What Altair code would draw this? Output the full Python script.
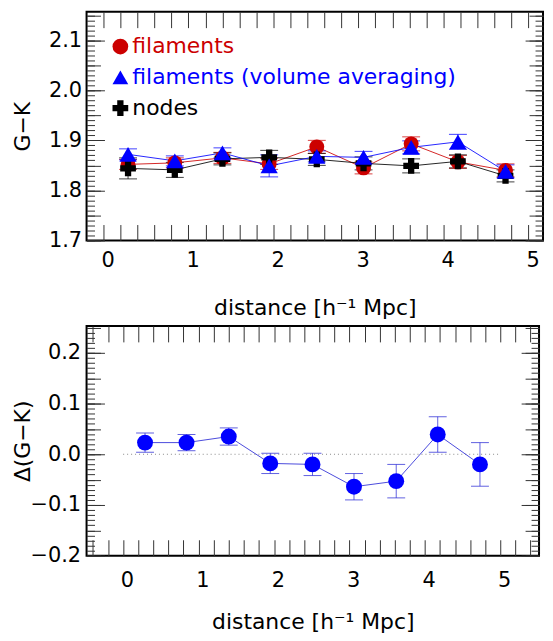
import altair as alt
import pandas as pd

# ---------------- data ----------------
distance = [0.24, 0.79, 1.35, 1.90, 2.46, 3.01, 3.57, 4.12, 4.68]

filaments = [1.852, 1.855, 1.865, 1.853, 1.887, 1.845, 1.893, 1.857, 1.840]
filaments_err = [0.010, 0.010, 0.011, 0.011, 0.013, 0.012, 0.014, 0.013, 0.013]
volume_avg = [1.872, 1.859, 1.875, 1.849, 1.868, 1.866, 1.886, 1.897, 1.838]
volume_avg_err = [0.011, 0.010, 0.010, 0.022, 0.011, 0.012, 0.013, 0.015, 0.013]
nodes = [1.844, 1.841, 1.863, 1.866, 1.862, 1.854, 1.849, 1.858, 1.829]
nodes_err = [0.021, 0.015, 0.012, 0.014, 0.012, 0.013, 0.014, 0.013, 0.012]

delta = [0.023, 0.023, 0.035, -0.018, -0.020, -0.064, -0.053, 0.039, -0.020]
delta_err = [0.019, 0.016, 0.017, 0.020, 0.022, 0.026, 0.033, 0.035, 0.043]

series_names = ["filaments", "filaments (volume averaging)", "nodes"]
series_colors = ["#cc0000", "#0000ff", "#000000"]
series_shapes = ["circle", "triangle-up", "cross"]
series_sizes = [225, 300, 250]

top_y_labels = [1.7, 1.8, 1.9, 2.0, 2.1]
bottom_y_labels = [-0.2, -0.1, 0.0, 0.1, 0.2]
x_labels = [0, 1, 2, 3, 4, 5]
zero_line = {"x0": [-0.05], "x1": [4.95], "y": [0.0]}

TOP_X_DOMAIN = [-0.248, 5.121]
TOP_Y_DOMAIN = [1.7, 2.157]
BOT_X_DOMAIN = [-0.535, 5.463]
BOT_Y_DOMAIN = [-0.2, 0.253]

FONT = "DejaVu Sans"


def steps(start, stop, step):
    n = int(round((stop - start) / step))
    return [round(start + i * step, 4) for i in range(n + 1)]


top_y_major = steps(1.7, 2.1, 0.1)
top_y_mid = steps(1.7, 2.15, 0.05)
top_y_minor = steps(1.7, 2.15, 0.01)
bot_y_major = steps(-0.2, 0.2, 0.1)
bot_y_mid = steps(-0.2, 0.25, 0.05)
bot_y_minor = steps(-0.2, 0.25, 0.01)
top_x_ticks = steps(-0.05, 4.95, 0.2)
bot_x_ticks = steps(-0.45, 5.35, 0.2)

# ---------------- tables ----------------
top_rows = []
for name, vals, errs in [
    ("filaments", filaments, filaments_err),
    ("filaments (volume averaging)", volume_avg, volume_avg_err),
    ("nodes", nodes, nodes_err),
]:
    for d, v, e in zip(distance, vals, errs):
        top_rows.append({"distance": d, "value": v, "lo": v - e, "hi": v + e, "series": name})
top_df = pd.DataFrame(top_rows)
bot_df = pd.DataFrame({
    "distance": distance,
    "value": delta,
    "lo": [v - e for v, e in zip(delta, delta_err)],
    "hi": [v + e for v, e in zip(delta, delta_err)],
})
zero_df = pd.DataFrame(zero_line)

color_scale = alt.Scale(domain=series_names, range=series_colors)
shape_scale = alt.Scale(domain=series_names, range=series_shapes)

label_color_expr = (
    "datum.value == 'nodes' ? '#000000' : "
    "(datum.value == 'filaments' ? '#cc0000' : '#0000ff')"
)
legend = alt.Legend(
    orient="none", legendX=23, legendY=24, title=None,
    labelFontSize=22, labelFont=FONT, labelLimit=0, labelOffset=1,
    symbolSize=250, symbolStrokeWidth=0, rowPadding=9, padding=0,
    labelColor=alt.ExprRef(expr=label_color_expr),
)


def tick_axis(orient, values, length):
    return alt.Axis(orient=orient, values=values, tickSize=length, offset=-length,
                    labels=False, domain=False, grid=False, title=None,
                    minExtent=0, maxExtent=0,
                    ticks=True, tickColor="#333333", tickWidth=1)


def axis_layers(df, xs, ys, xlab_axis, ylab_axis, y_major, y_mid, y_minor, x_ticks):
    out = []
    base = alt.Chart(df).mark_point(opacity=0)
    out.append(base.encode(
        x=alt.X("distance:Q", scale=xs, axis=xlab_axis),
        y=alt.Y("value:Q", scale=ys, axis=ylab_axis)))
    for orient in ["left", "right"]:
        for vals, ln in [(y_major, 18), (y_mid, 14), (y_minor, 8)]:
            out.append(base.encode(
                x=alt.X("distance:Q", scale=xs, axis=None),
                y=alt.Y("value:Q", scale=ys, axis=tick_axis(orient, vals, ln))))
    for orient in ["bottom", "top"]:
        out.append(base.encode(
            x=alt.X("distance:Q", scale=xs, axis=tick_axis(orient, x_ticks, 16)),
            y=alt.Y("value:Q", scale=ys, axis=None)))
    return out


def series_layers(df_s, color, xs, ys, point_enc, size, line_color=None):
    base = alt.Chart(df_s)
    X = alt.X("distance:Q", scale=xs, axis=None)
    lc = line_color or color
    line = base.mark_line(color=lc, strokeWidth=1, opacity=0.85).encode(
        x=X, y=alt.Y("value:Q", scale=ys, axis=None))
    bar = base.mark_rule(color=lc, strokeWidth=1, opacity=0.75).encode(
        x=X, y=alt.Y("lo:Q", scale=ys, axis=None), y2="hi:Q")
    cap_lo = base.mark_tick(color=lc, orient="horizontal", size=18, thickness=1, opacity=0.75).encode(
        x=X, y=alt.Y("lo:Q", scale=ys, axis=None))
    cap_hi = base.mark_tick(color=lc, orient="horizontal", size=18, thickness=1, opacity=0.75).encode(
        x=X, y=alt.Y("hi:Q", scale=ys, axis=None))
    pts = base.mark_point(filled=True, opacity=1, size=size, strokeWidth=0).encode(
        x=X, y=alt.Y("value:Q", scale=ys, axis=None), **point_enc)
    return [line, bar, cap_lo, cap_hi], pts


# ---------------- top panel ----------------
txs = alt.Scale(domain=TOP_X_DOMAIN, nice=False, zero=False)
tys = alt.Scale(domain=TOP_Y_DOMAIN, nice=False, zero=False)

top_layers = []
point_layers = []
for idx in [0, 2, 1]:  # draw order: red, black, blue
    name = series_names[idx]
    sub = top_df[top_df["series"] == name]
    enc = dict(
        color=alt.Color("series:N", scale=color_scale, legend=legend),
        shape=alt.Shape("series:N", scale=shape_scale, legend=legend),
    )
    lines, pts = series_layers(sub, series_colors[idx], txs, tys, enc, series_sizes[idx])
    top_layers += lines
    point_layers.append(pts)

top_xlab = alt.Axis(orient="bottom", values=x_labels, format="d", ticks=False, tickSize=0,
                    domain=False, grid=False, labelPadding=9, labelFlush=False,
                    title="distance [h⁻¹ Mpc]", titlePadding=27)
top_ylab = alt.Axis(orient="left", values=top_y_labels, format=".1f", ticks=False, tickSize=0,
                    domain=False, grid=False, labelPadding=5, labelFlush=False,
                    title="G−K", titlePadding=14)

top = alt.layer(
    *axis_layers(top_df, txs, tys, top_xlab, top_ylab, top_y_major, top_y_mid, top_y_minor, top_x_ticks),
    *top_layers,
    *point_layers,
).resolve_axis(x="independent", y="independent").properties(width=459, height=230)

# ---------------- bottom panel ----------------
bxs = alt.Scale(domain=BOT_X_DOMAIN, nice=False, zero=False)
bys = alt.Scale(domain=BOT_Y_DOMAIN, nice=False, zero=False)

zero_rule = alt.Chart(zero_df).mark_rule(color="#888888", strokeDash=[1, 3], strokeWidth=1).encode(
    x=alt.X("x0:Q", scale=bxs, axis=None), x2="x1:Q",
    y=alt.Y("y:Q", scale=bys, axis=None))

b_lines, b_pts = series_layers(bot_df, "#0000ff", bxs, bys, dict(color=alt.value("#0000ff")), 256,
                               line_color="#2b2bd6")

bot_xlab = alt.Axis(orient="bottom", values=x_labels, format="d", ticks=False, tickSize=0,
                    domain=False, grid=False, labelPadding=14, labelFlush=False,
                    title="distance [h⁻¹ Mpc]", titlePadding=21)
bot_ylab = alt.Axis(orient="left", values=bottom_y_labels, format=".1f", ticks=False, tickSize=0,
                    domain=False, grid=False, labelPadding=6, labelFlush=False,
                    title="Δ(G−K)", titlePadding=-5)

bottom = alt.layer(
    *axis_layers(bot_df, bxs, bys, bot_xlab, bot_ylab, bot_y_major, bot_y_mid, bot_y_minor, bot_x_ticks),
    zero_rule,
    *b_lines,
    b_pts,
).resolve_axis(x="independent", y="independent").properties(width=455, height=231)

chart = alt.vconcat(top, bottom, spacing=5).properties(
    padding={"left": 2, "top": 0, "right": 0, "bottom": -1},
).configure_view(
    stroke="black", strokeWidth=2
).configure_axis(
    labelFont=FONT, titleFont=FONT, labelColor="black", titleColor="black",
    labelFontSize=21, titleFontSize=22, titleFontWeight="normal", grid=False,
).configure_legend(labelFont=FONT)

chart.save("out.html", embed_options={"renderer": "svg", "actions": False})
